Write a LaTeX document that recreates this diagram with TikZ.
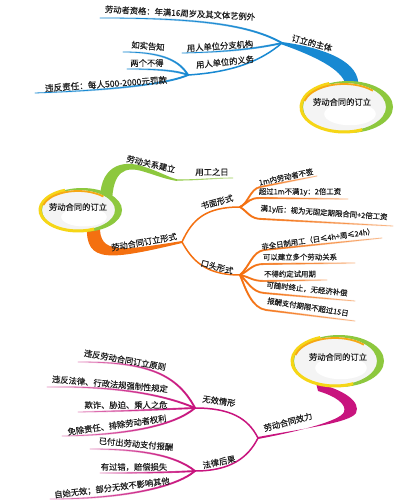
\documentclass[tikz,border=0pt]{standalone}
\usepackage{fontspec}
\setmainfont{Noto Sans CJK SC}[FakeBold=0.35]
\usetikzlibrary{fadings}
\definecolor{blueC}{RGB}{24,137,210}
\definecolor{greenC}{RGB}{141,200,62}
\definecolor{orangeC}{RGB}{244,112,16}
\definecolor{magC}{RGB}{200,20,126}
\definecolor{yellowC}{RGB}{246,214,22}
\definecolor{ringOr}{RGB}{246,168,20}
\definecolor{txt}{RGB}{30,30,30}
\tikzfading[name=fR, left color=transparent!0, right color=transparent!100]
\tikzfading[name=fRsoft, left color=transparent!0, right color=transparent!55]
\tikzfading[name=fL, left color=transparent!100, right color=transparent!0]
\tikzfading[name=fLsoft, left color=transparent!55, right color=transparent!0]
\tikzset{
  lbl/.style={font=\fontsize{8.3}{9}\selectfont, text=txt, inner sep=0pt},
  lblS/.style={font=\fontsize{7.4}{9}\selectfont, text=txt, inner sep=0pt},
  ctr/.style={font=\fontsize{8.3}{9}\selectfont, text=txt, inner sep=0pt},
  thinB/.style={draw=blueC, line width=0.8pt, line cap=round},
  thickB/.style={draw=blueC, line width=1.9pt, line cap=round, path fading=fL},
  thinO/.style={draw=orangeC, line width=0.8pt, line cap=round, path fading=fRsoft},
  thickO/.style={draw=orangeC, line width=1.9pt, line cap=round, path fading=fR},
  thinM/.style={draw=magC, line width=0.8pt, line cap=round, path fading=fLsoft},
  thickM/.style={draw=magC, line width=1.9pt, line cap=round, path fading=fL},
  hubB/.style={draw=blueC, line width=1.5pt, line cap=round},
  hubO/.style={draw=orangeC, line width=1.5pt, line cap=round},
  hubM/.style={draw=magC, line width=1.5pt, line cap=round},
}
\newcommand{\leafB}[1]{\draw[thickB] #1; \draw[thinB] #1;}
\newcommand{\leafO}[1]{\draw[thickO] #1; \draw[thinO] #1;}
\newcommand{\leafM}[1]{\draw[thickM] #1; \draw[thinM] #1;}
% centre ellipse: #1 = centre name, #2 rx, #3 ry
\newcommand{\ringellipse}[3]{%
  \fill[gray!9] (#1) ellipse [x radius=#2pt, y radius=#3pt];
  \fill[white] (#1) ++(6pt,-7pt) ellipse [x radius=0.6*#2pt, y radius=0.45*#3pt];
  \fill[greenC, even odd rule] (#1) ++(4pt,0pt) ellipse [x radius=#2pt+2pt, y radius=#3pt+1pt]
       (#1) ellipse [x radius=#2pt-1pt, y radius=#3pt-1pt];
  \draw[yellowC, line width=3pt] (#1) ++(110:#2pt and #3pt)
       arc[start angle=110, end angle=295, x radius=#2pt, y radius=#3pt];
  \draw[ringOr, line width=1.8pt] (#1) ++(165:#2pt-2pt and #3pt-2pt)
       arc[start angle=165, end angle=45, x radius=#2pt-2pt, y radius=#3pt-2pt];
}
\begin{document}
\begin{tikzpicture}[x=1pt,y=-1pt]
\useasboundingbox (0,0) rectangle (408,500);
\fill[white] (0,0) rectangle (408,500);

%================ Section 1 (blue) ================
\coordinate (C1) at (344,107);
\coordinate (hA) at (282,43);
\coordinate (hB) at (188,75);
\coordinate (a1) at (100,18);
\coordinate (a2) at (182,53);
\coordinate (b1) at (123,52);
\coordinate (b2) at (127,69);
\coordinate (b3) at (35,93);

\fill[blueC] (282,42) .. controls (325,48) and (362,62) .. (358,88)
  -- (346,88) .. controls (346,72) and (320,58) .. (282,44.5) -- cycle;
\ringellipse{C1}{43}{25}
\node[ctr] (t1c) at (342,102) {劳动合同的订立};
\node[lbl, rotate=-15] (t1b) at (312,43) {订立的主体};

\leafB{(a1) .. controls (200,18) and (250,25) .. (hA)}
\leafB{(a2) .. controls (230,52) and (260,48) .. (hA)}
\draw[hubB] (hB) .. controls (235,72) and (262,60) .. (hA);
\leafB{(b1) .. controls (165,52) and (180,62) .. (hB)}
\leafB{(b2) .. controls (160,69) and (178,71) .. (hB)}
\leafB{(b3) .. controls (120,90) and (170,83) .. (hB)}

\node[lbl, rotate=-3] (ta1) at (180,13) {劳动者资格：年满16周岁及其文体艺例外};
\node[lbl, rotate=4] (ta2) at (220,46) {用人单位分支机构};
\node[lbl, rotate=6] (tb) at (225,62) {用人单位的义务};
\node[lbl, rotate=-5] (tb1) at (148,46) {如实告知};
\node[lbl] (tb2) at (147,63) {两个不得};
\node[lbl, font=\fontsize{8.6}{9}\selectfont, rotate=4] (tb3) at (106,84) {违反责任：每人500-2000元罚款};

%================ Section 2 (green / orange) ================
\coordinate (C2) at (78,210);
\coordinate (gE) at (177,180);
\coordinate (gT) at (233,178);
\coordinate (hC) at (182,242);
\coordinate (hD) at (240,207);
\coordinate (hE) at (240,275);

\fill[greenC] (100,202) .. controls (99,168) and (120,158) .. (145,167)
  .. controls (160,172) and (168,177) .. (177,179.3)
  -- (177,181) .. controls (165,179) and (158,176) .. (145,172)
  .. controls (124,165) and (113,172) .. (112,202) -- cycle;
\draw[greenC, line width=1.1pt, path fading=fRsoft] (gE) .. controls (200,180) and (215,178) .. (gT);

\fill[orangeC] (87,226) .. controls (85,264) and (110,260) .. (182,243)
  -- (182,241) .. controls (120,251) and (99,254) .. (100,226) -- cycle;

\ringellipse{C2}{38}{21}
\node[ctr] (t2c) at (78,207) {劳动合同的订立};
\node[lbl, rotate=-13] (tg) at (151,164) {劳动关系建立};
\node[lbl] (tgt) at (212,172) {用工之日};
\node[lbl, rotate=10] (to) at (144,242) {劳动合同订立形式};

\draw[hubO] (hC) .. controls (192,220) and (205,207) .. (hD);
\draw[hubO] (hC) .. controls (192,260) and (205,275) .. (hE);
\node[lbl, rotate=15] (tD) at (217,202) {书面形式};
\node[lbl, rotate=-15] (tE) at (217,267) {口头形式};

\coordinate (d1) at (317,176);
\coordinate (d2) at (348,199);
\coordinate (d3) at (393,226);
\leafO{(hD) .. controls (248,204) and (250,189) .. (260,187) -- (d1)}
\leafO{(hD) .. controls (250,201) and (250,198) .. (260,198) -- (d2)}
\leafO{(hD) .. controls (248,212) and (250,219) .. (262,219) -- (d3)}
\node[lblS, rotate=12] (td1) at (286,177) {1m内劳动者不签};
\node[lblS] (td2) at (300,192) {超过1m不满1y：2倍工资};
\node[lblS, rotate=-4] (td3) at (324,213) {满1y后：视为无固定期限合同+2倍工资};

\coordinate (e1) at (382,238);
\coordinate (e2) at (355,263);
\coordinate (e3) at (327,280);
\coordinate (e4) at (355,301);
\coordinate (e5) at (355,321);
\leafO{(hE) .. controls (250,266) and (252,252) .. (264,250) -- (e1)}
\leafO{(hE) .. controls (250,270) and (252,264) .. (264,264) -- (e2)}
\leafO{(hE) .. controls (250,277) and (252,281) .. (264,281) -- (e3)}
\leafO{(hE) .. controls (248,282) and (252,292) .. (264,293) -- (e4)}
\leafO{(hE) .. controls (246,290) and (252,308) .. (266,310) -- (e5)}
\node[lblS, rotate=8] (te1) at (318,239) {非全日制用工（日≤4h+周≤24h）};
\node[lblS] (te2) at (300,257) {可以建立多个劳动关系};
\node[lblS] (te3) at (290,274) {不得约定试用期};
\node[lblS, rotate=-6] (te4) at (307,289) {可随时终止，无经济补偿};
\node[lblS, rotate=-9] (te5) at (308,307) {报酬支付期限不超过15日};

%================ Section 3 (magenta) ================
\coordinate (C3) at (335,361);
\coordinate (hF) at (258,438);
\coordinate (hG) at (195,408);
\coordinate (hH) at (195,471);

\fill[magC] (316,383) .. controls (345,390) and (361,402) .. (356,413)
  .. controls (350,423) and (300,429) .. (258,437)
  -- (258,439) .. controls (300,431) and (340,421) .. (344,412)
  .. controls (347,404) and (335,396) .. (318,391) -- cycle;
\ringellipse{C3}{43}{25}
\node[ctr] (t3c) at (338,357) {劳动合同的订立};
\node[lbl, rotate=15] (tF) at (288,422) {劳动合同效力};

\draw[hubM] (hF) .. controls (248,418) and (230,408) .. (hG);
\draw[hubM] (hF) .. controls (248,458) and (230,471) .. (hH);
\node[lbl, rotate=-8] (tG) at (219,401) {无效情形};
\node[lbl, rotate=12] (tH) at (219,462) {法律后果};

\coordinate (g1) at (78,362);
\coordinate (g2) at (47,387);
\coordinate (g3) at (78,412);
\coordinate (g4) at (62,436);
\leafM{(g1) .. controls (140,362) and (175,370) .. (hG)}
\leafM{(g2) .. controls (110,386) and (160,393) .. (hG)}
\leafM{(g3) .. controls (130,411) and (170,409) .. (hG)}
\leafM{(g4) .. controls (130,435) and (175,425) .. (hG)}
\node[lbl, rotate=-10] (tg1) at (125,360) {违反劳动合同订立原则};
\node[lbl, rotate=-5] (tg2) at (110,384) {违反法律、行政法规强制性规定};
\node[lbl] (tg3) at (126,405) {欺诈、胁迫、乘人之危};
\node[lbl, rotate=8] (tg4) at (117,425) {免除责任、排除劳动者权利};

\coordinate (h1) at (90,449);
\coordinate (h2) at (100,473);
\coordinate (h3) at (50,499);
\leafM{(h1) .. controls (140,449) and (175,455) .. (hH)}
\leafM{(h2) .. controls (150,473) and (180,472) .. (hH)}
\leafM{(h3) .. controls (120,499) and (175,488) .. (hH)}
\node[lbl, rotate=-5] (th1) at (136,444) {已付出劳动支付报酬};
\node[lbl] (th2) at (134,467) {有过错，赔偿损失};
\node[lbl, rotate=7] (th3) at (112,488) {自始无效；部分无效不影响其他};
\end{tikzpicture}
\end{document}
